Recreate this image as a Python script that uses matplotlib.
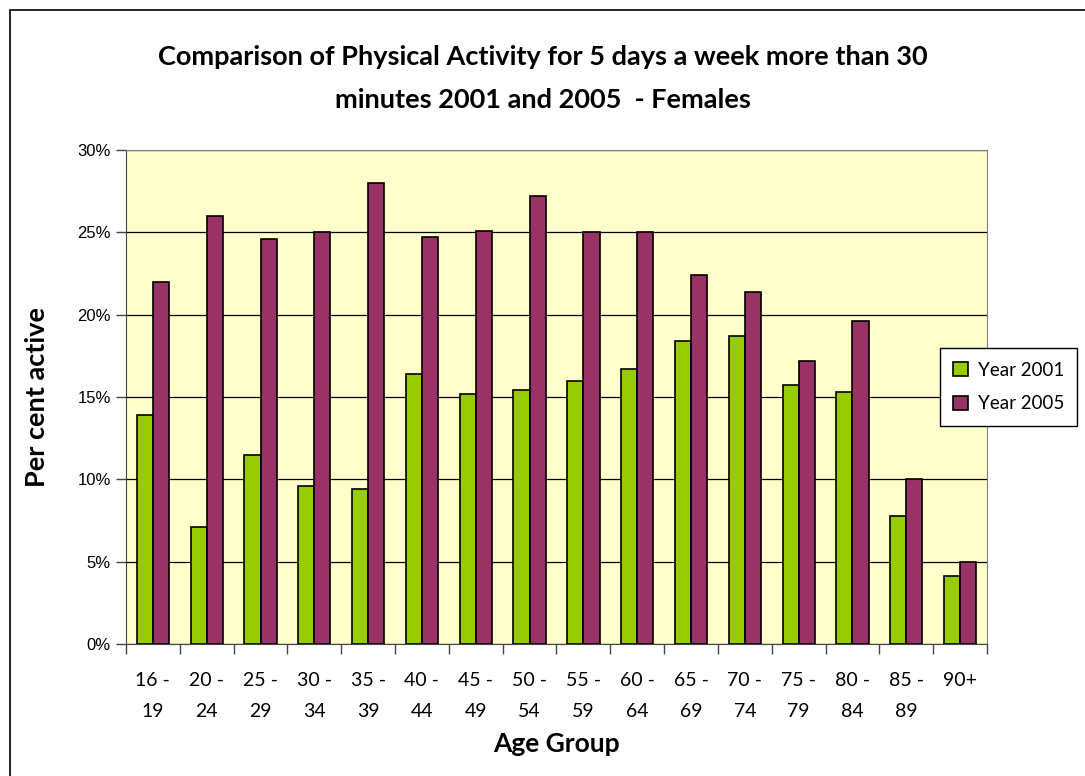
import matplotlib
matplotlib.use("Agg")
import matplotlib.pyplot as plt
import numpy as np
from matplotlib.patches import Rectangle
from matplotlib.ticker import FuncFormatter, FixedLocator

age_groups = ["16 -\n19", "20 -\n24", "25 -\n29", "30 -\n34", "35 -\n39", "40 -\n44",
              "45 -\n49", "50 -\n54", "55 -\n59", "60 -\n64", "65 -\n69", "70 -\n74",
              "75 -\n79", "80 -\n84", "85 -\n89", "90+\n"]
year_2001 = [13.9, 7.1, 11.5, 9.6, 9.4, 16.4, 15.2, 15.4, 16.0, 16.7, 18.4, 18.7, 15.7, 15.3, 7.8, 4.1]
year_2005 = [22.0, 26.0, 24.6, 25.0, 28.0, 24.7, 25.1, 27.2, 25.0, 25.0, 22.4, 21.4, 17.2, 19.6, 10.0, 5.0]

GREEN = "#99CC00"
PURPLE = "#993366"
BG = "#FFFFCC"
TXT_FONT = ["Lato", "DejaVu Sans"]

fig = plt.figure(figsize=(10.85, 7.76), dpi=100)
fig.patches.append(Rectangle((10 / 1085, -0.01), 1.02, 1 - 10 / 776 + 0.01,
                             transform=fig.transFigure, fill=False,
                             edgecolor="black", linewidth=1.2))

ax = fig.add_axes([0.1161, 0.1701, 0.7936, 0.6366])
ax.set_facecolor(BG)

x = np.arange(len(age_groups))
w = 0.3
ax.bar(x - w / 2, year_2001, w, color=GREEN, edgecolor="black", linewidth=1.2,
       label="Year 2001", zorder=3)
ax.bar(x + w / 2, year_2005, w, color=PURPLE, edgecolor="black", linewidth=1.2,
       label="Year 2005", zorder=3)

ax.set_xlim(-0.5, len(age_groups) - 0.5)
ax.set_ylim(0, 30)
ax.set_yticks(np.arange(0, 31, 5))
ax.yaxis.set_major_formatter(FuncFormatter(lambda v, p: f"{v:.0f}%"))
ax.grid(axis="y", color="black", linewidth=0.9, zorder=1)

ax.set_xticks(x)
ax.set_xticklabels(age_groups, fontsize=14, family=TXT_FONT, linespacing=2.05,
                   va="top")
ax.tick_params(axis="x", length=0, pad=20)
ax.xaxis.set_minor_locator(FixedLocator(np.arange(-0.5, len(age_groups), 1.0)))
ax.tick_params(axis="x", which="minor", length=7, width=1, color="#444444")
ax.tick_params(axis="y", length=7, width=1, color="#444444", labelsize=12, pad=4)
for lab in ax.get_yticklabels():
    lab.set_family(["Liberation Sans", "DejaVu Sans"])

for side in ("top", "right"):
    ax.spines[side].set_color("#808080")
ax.spines["left"].set_color("#444444")
ax.spines["bottom"].set_color("#444444")

ax.set_xlabel("Age Group", fontsize=19, fontweight="bold", family=TXT_FONT, labelpad=8)
ax.set_ylabel("Per cent active", fontsize=19.5, fontweight="bold", family=TXT_FONT, labelpad=20)

fig.text(0.5, 0.926, "Comparison of Physical Activity for 5 days a week more than 30",
         ha="center", va="center", fontsize=19.5, fontweight="bold", family=TXT_FONT)
fig.text(0.5, 0.871, "minutes 2001 and 2005  - Females",
         ha="center", va="center", fontsize=19.5, fontweight="bold", family=TXT_FONT)

leg = ax.legend(loc="center left", bbox_to_anchor=(940 / 1085, 389 / 776),
                bbox_transform=fig.transFigure, prop={"family": TXT_FONT, "size": 13.5},
                frameon=True, fancybox=False, edgecolor="black", framealpha=1,
                handlelength=0.8, handleheight=0.8, handletextpad=0.5,
                borderpad=0.7, labelspacing=0.9, borderaxespad=0)
leg.get_frame().set_linewidth(1.0)

fig.savefig("out.png", dpi=100)
